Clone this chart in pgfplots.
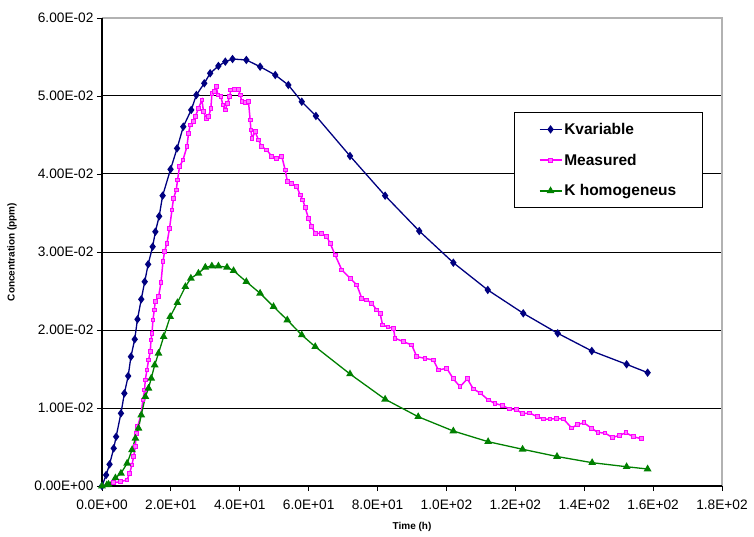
\documentclass[border=0pt]{standalone}
\usepackage{fontspec}
\setmainfont{Liberation Sans}
\usepackage{pgfplots}
\pgfplotsset{compat=1.18}
\definecolor{kvar}{RGB}{0,0,128}
\definecolor{meas}{RGB}{255,0,255}
\definecolor{khom}{RGB}{0,128,0}
\begin{document}
\begin{tikzpicture}
\begin{axis}[
  scale only axis, width=620pt, height=468pt,
  xmin=0, xmax=180, ymin=0, ymax=0.06,
  xtick={0,20,40,60,80,100,120,140,160,180},
  xticklabels={0.0E+00,2.0E+01,4.0E+01,6.0E+01,8.0E+01,1.0E+02,1.2E+02,1.4E+02,1.6E+02,1.8E+02},
  ytick={0,0.01,0.02,0.03,0.04,0.05,0.06},
  yticklabels={0.00E+00,1.00E-02,2.00E-02,3.00E-02,4.00E-02,5.00E-02,6.00E-02},
  scaled y ticks=false,
  xtick pos=lower, ytick pos=left,
  tick align=outside, major tick length=5pt,
  tick style={black, line width=0.8pt},
  ymajorgrids, grid style={black, line width=1pt},
  axis line style={draw=none},
  ticklabel style={font=\fontsize{13.7}{15}\selectfont},
  xticklabel style={yshift=-5pt},
  xlabel={Time (h)}, ylabel={Concentration (ppm)},
  label style={font=\bfseries\fontsize{10}{12}\selectfont},
  xlabel style={at={(axis description cs:0.5,-0.0876)}, anchor=center},
  ylabel style={at={(axis description cs:-0.145,0.5)}, anchor=center},
  clip=false,
  legend style={at={(0.665,0.799)}, anchor=north west, draw=black, line width=1pt,
    fill=white, font=\bfseries\fontsize{15.5}{17}\selectfont, row sep=14pt,
    inner xsep=24pt, inner ysep=8.5pt},
  legend cell align=left,
  legend image code/.code={\draw[mark repeat=2,mark phase=2] plot coordinates {(0pt,0pt) (11pt,0pt) (22pt,0pt)};},
]
\draw[gray!60, line width=1.2pt] (rel axis cs:0,1) -- (rel axis cs:1,1) -- (rel axis cs:1,0);
\draw[black, line width=1.2pt] (rel axis cs:0,1) -- (rel axis cs:0,0) -- (rel axis cs:1,0);

\addplot[kvar, line width=1.3pt, mark=diamond*, mark size=3.2pt, mark options={solid, fill=kvar}] coordinates {
(0,0) (1.2,0.00141) (2.2,0.00278) (3.4,0.00483) (4.1,0.00632) (5.5,0.00932) (6.5,0.01188)
(7.6,0.01410) (8.4,0.01658) (9.5,0.01881) (10.3,0.02137) (11.4,0.02394) (12.4,0.02619)
(13.4,0.02842) (14.7,0.03068) (15.5,0.03260) (16.6,0.03458) (17.6,0.03722) (19.9,0.04060)
(21.8,0.04329) (23.6,0.04606) (25.9,0.04821) (27.4,0.05013) (29.7,0.05163) (31.4,0.05291)
(33.8,0.05385) (35.8,0.05440) (37.9,0.05474) (41.9,0.05462) (45.9,0.05376) (50.3,0.05269)
(54.1,0.05141) (58.0,0.04927) (62.1,0.04744) (72.0,0.04231) (82.2,0.03722) (92.1,0.03269)
(102.0,0.02863) (112.0,0.02513) (122.3,0.02214) (132.3,0.01958) (142.2,0.01731)
(152.3,0.01560) (158.4,0.01453)
};
\addlegendentry{Kvariable}

\addplot[meas, line width=1.5pt, mark=square*, mark size=1.9pt, mark options={solid, fill=meas!55!white, draw=meas, line width=1pt}] coordinates {
(0,0) (3.37,0.00042) (5.31,0.00055) (7.25,0.00077) (8.01,0.00163) (8.70,0.00269) (9.17,0.00376)
(9.66,0.00504) (9.95,0.00676) (10.33,0.00760) (11.31,0.00910) (11.89,0.01103) (12.36,0.01231)
(12.56,0.01359) (13.05,0.01487) (13.52,0.01615) (14.01,0.01722) (14.22,0.01872) (14.51,0.01958)
(14.80,0.02128) (15.17,0.02256) (15.46,0.02363) (16.42,0.02427) (17.12,0.02606) (17.70,0.02876)
(18.16,0.03004) (18.86,0.03112) (19.61,0.03304) (20.31,0.03538) (20.77,0.03688) (21.56,0.03795)
(21.93,0.03923) (22.51,0.04094) (23.50,0.04179) (24.66,0.04350) (25.12,0.04522) (25.62,0.04628)
(26.57,0.04671) (27.07,0.04735) (28.02,0.04842) (29.01,0.04949) (29.48,0.04799) (30.26,0.04714)
(30.93,0.04735) (31.62,0.04842) (31.91,0.05035) (32.67,0.05055) (33.16,0.05119) (33.65,0.05013)
(34.52,0.04991) (35.10,0.04885) (35.77,0.04821) (36.44,0.04906) (37.02,0.04991) (37.42,0.05077)
(38.38,0.05086) (39.63,0.05086) (40.12,0.05013) (40.62,0.04927) (41.57,0.04914) (42.53,0.04927)
(43.02,0.04692) (43.23,0.04564) (43.52,0.04458) (44.47,0.04542) (45.43,0.04436) (46.42,0.04350)
(47.87,0.04308) (49.32,0.04222) (50.77,0.04201) (52.22,0.04222) (53.18,0.04051) (53.84,0.03901)
(55.12,0.03881) (56.57,0.03837) (57.53,0.03731) (58.31,0.03667) (58.98,0.03571) (59.94,0.03432)
(60.92,0.03324) (61.88,0.03240) (63.82,0.03240) (65.27,0.03196) (66.23,0.03112) (67.68,0.02962)
(69.63,0.02769) (72.03,0.02663) (73.98,0.02577) (75.43,0.02406) (76.88,0.02385) (78.33,0.02342)
(79.78,0.02256) (80.74,0.02214) (81.46,0.02064) (83.06,0.02038) (84.60,0.02022) (85.09,0.01894)
(87.50,0.01850) (89.93,0.01808) (91.38,0.01658) (93.79,0.01637) (96.20,0.01615) (97.65,0.01487)
(100.09,0.01509) (102.00,0.01374) (103.95,0.01273) (106.06,0.01374) (107.80,0.01244)
(109.83,0.01192) (112.16,0.01103) (114.10,0.01058) (116.28,0.01032) (118.31,0.00987)
(120.28,0.00981) (122.08,0.00927) (124.11,0.00936) (126.43,0.00888) (128.11,0.00859)
(130.06,0.00859) (132.00,0.00865) (133.97,0.00859) (136.35,0.00744) (138.03,0.00788)
(139.92,0.00810) (142.15,0.00740) (143.98,0.00686) (146.01,0.00679) (148.19,0.00622)
(150.28,0.00650) (152.10,0.00683) (154.22,0.00632) (156.66,0.00606)
};
\addlegendentry{Measured}

\addplot[khom, line width=1.3pt, mark=triangle*, mark size=3.2pt, mark options={solid, fill=khom}] coordinates {
(0,0) (1.4,0.00013) (1.9,0.00022) (3.9,0.00103) (5.5,0.00163) (7.3,0.00291) (8.7,0.00462)
(9.7,0.00612) (10.6,0.0074) (11.4,0.0091) (12.6,0.01145) (13.5,0.01253) (14.3,0.01381)
(15.3,0.01551) (16.4,0.01701) (17.9,0.01914) (19.8,0.02171) (21.9,0.0235) (24.2,0.02555)
(25.8,0.02663) (28.0,0.02727) (30.0,0.02804) (31.9,0.0282) (33.8,0.0282) (36.3,0.02804)
(38.2,0.0276) (41.9,0.02619) (45.9,0.02471) (49.8,0.02299) (53.8,0.02128) (58.0,0.01936)
(61.9,0.01786) (72.0,0.01436) (82.2,0.01112) (91.8,0.00888) (102,0.00705) (112.1,0.00568)
(122.1,0.00471) (132.1,0.00378) (142.3,0.00299) (152.3,0.00247) (158.4,0.00218)
};
\addlegendentry{K homogeneus}
\end{axis}
\pgfresetboundingbox
\path (-102pt,-50pt) rectangle (652pt,486pt);
\end{tikzpicture}
\end{document}
